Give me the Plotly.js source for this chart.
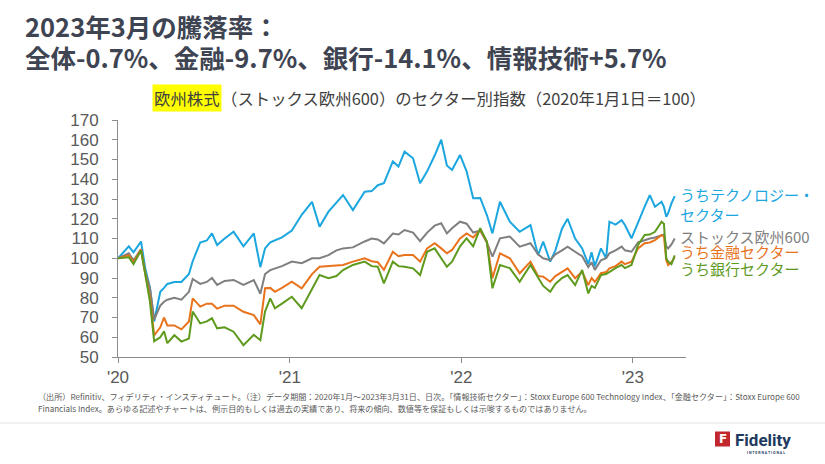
<!DOCTYPE html>
<html>
<head>
<meta charset="utf-8">
<script src="https://cdn.plot.ly/plotly-3.0.1.min.js"></script>
<style>html,body{margin:0;padding:0;background:#fff;}#chart{width:825px;height:464px;}</style>
</head>
<body>
<div id="chart"></div>
<script>
// ---- data ----
const dates = [
 '2020-01-01','2020-01-24','2020-02-03','2020-02-19','2020-02-28','2020-03-09','2020-03-18','2020-03-31',
 '2020-04-08','2020-04-15','2020-04-30','2020-05-15','2020-05-31','2020-06-08','2020-06-24','2020-07-08',
 '2020-07-19','2020-07-30','2020-08-15','2020-09-03','2020-09-24','2020-10-16','2020-10-30','2020-11-09',
 '2020-11-20','2020-11-30','2020-12-15','2021-01-05','2021-01-26','2021-02-17','2021-03-05','2021-03-24',
 '2021-04-10','2021-04-24','2021-05-15','2021-06-09','2021-06-24','2021-07-07','2021-07-20','2021-08-08',
 '2021-08-20','2021-09-02','2021-09-20','2021-10-05','2021-10-20','2021-11-05','2021-11-19','2021-12-01',
 '2021-12-12','2021-12-29','2022-01-12','2022-01-26','2022-02-10','2022-02-24','2022-03-08','2022-03-24',
 '2022-04-14','2022-05-05','2022-05-28','2022-06-13','2022-06-24','2022-07-09','2022-07-20','2022-08-03',
 '2022-08-15','2022-08-31','2022-09-15','2022-09-28','2022-10-05','2022-10-12','2022-10-25','2022-11-05',
 '2022-11-12','2022-11-25','2022-12-08','2022-12-15','2022-12-29','2023-01-12','2023-01-26','2023-02-06',
 '2023-02-17','2023-03-03','2023-03-08','2023-03-13','2023-03-17','2023-03-24','2023-03-31'
];
const tech = [
 100,106,103,108.5,95,85,68,83, 85,87,88,88,92,98.5,108,109,
 112.6,106.7,110,113.4,106,112.6,95.5,105, 108,109,110.6,114,122,128.6,116,123.6,
 128,132,124.4,133.7,134,137,138,149, 146.4,154,150.6,138,144,152,160,147,
 144.7,152.3,144,130.4,130.5,122,112.6,128.6, 118.5,113.4,116.8,101.6,108.4,98.3,104,115,
 120,110,105,97,103,96,105,100, 118.5,117,119.3,116.8,110.1,118.5,126.1,132,
 126.1,128.6,126,121,122.8,127.8,131.5
];
const stoxx600 = [
 100,102.5,99,104.5,93,85,69,76, 78,79,80,79,83,89.5,87,88,
 90,86.5,88.5,89,86.5,89,82,92, 94,94.7,96,98.3,97.5,100,100,101.6,
 104,105,105.5,108.5,110,109.5,107.5,112.5, 112,114.3,113,108.7,113,116.5,117.7,112.6,
 115.2,118.5,117.5,113,114,108,100.8,110.1, 111,105.9,107.6,102,100,99,102,104,
 105.9,103.3,101,95.5,98,94.1,99,100, 102.5,104,105.9,104,103.3,108,109.2,110,
 110.5,111.8,112,106,105,107,110
];
const financials = [
 100,101.5,98,104.5,92,80,61,65, 70,66,66,64,68,79.7,75.5,77,
 77,74.5,76,76,72.9,71.2,66.5,84.8, 85,83,85,88.1,84.8,92,95.7,96,
 96.5,96.6,98.3,100,98.5,98,94.1,103.3, 101,101.6,101.6,98.3,105,107.6,105,102.5,
 104.2,110,112.6,110.5,114.3,108.4,89.9,102.5, 100,92.4,98.3,91,90.7,88.1,91,93,
 94.9,89.9,93.2,86.4,90,88,92.4,93, 94.9,96,98.3,97,98.3,105,107.6,108,
 109.2,111.8,111,99,96.6,98,100.5
];
const banks = [
 100,100.5,97,104,92,78,58,60, 63,57,61,57.8,59.4,73,67,68,
 69.6,64.5,65,62.8,56,61.2,58.5,73, 79.7,74.7,77,80.5,74.7,84.8,91.5,89.9,
 91,94,96.6,98.3,96,95.7,87.3,98.3, 96,95.7,94.9,91.5,103.3,105,100,95.7,
 98.3,106,110.1,106,115.2,108.4,84.8,96.6, 95,88.1,96.6,90.7,86,83,87,90,
 91.5,86.4,94.1,82.2,86,85,91.5,92, 93.2,95,96.6,95,96.6,106.7,111.8,112,
 113.4,118.5,117.5,100,98.3,97,101.5
];
const seriesNames = ['うちテクノロジー・<br>セクター','ストックス欧州600','うち金融セクター','うち銀行セクター'];
const seriesColors = ['#1BA6DF','#7F7F7F','#E8731C','#5E9A1E'];
const xTickVals = ['2020-01-01','2021-01-01','2022-01-01','2023-01-01'];
const xTickText = ["'20","'21","'22","'23"];
const titleLines = ['2023年3月の騰落率：','全体-0.7%、金融-9.7%、銀行-14.1%、情報技術+5.7%'];

// ---- layout helpers (pixel -> paper) ----
const W = 825, H = 464, L = 118, R = 686, T = 120, B = 357;
const px = x => (x - L) / (R - L);
const py = y => (B - y) / (B - T);

const allSeries = [tech, stoxx600, financials, banks];
const traces = allSeries.map((v, i) => ({
  x: dates, y: v, type: 'scatter', mode: 'lines',
  line: {color: seriesColors[i], width: 2}, hoverinfo: 'skip', showlegend: false
}));

const jp = '"Noto Sans CJK JP", "Noto Sans", sans-serif';
const ann = [];
// title lines
[26, 57].forEach((yy, i) => {
  ann.push({xref:'paper', yref:'paper', x: px(23), y: py(yy), xanchor:'left', yanchor:'middle',
    text: '<b>' + titleLines[i] + '</b>', showarrow:false,
    font:{family: jp, size: 25.5, color:'#3E4452'}});
});
// series labels at right
const labelY = [204, 236, 251.5, 268.5];
allSeries.forEach((v, i) => {
  ann.push({xref:'paper', yref:'paper', x: px(678), y: py(labelY[i]), xanchor:'left', yanchor:'middle',
    text: seriesNames[i], showarrow:false, align:'left',
    font:{family: jp, size: 15, color: seriesColors[i]}});
});
// subtitle
ann.push({xref:'paper', yref:'paper', x: px(152), y: py(98), xanchor:'left', yanchor:'middle',
  text:'欧州株式', showarrow:false, bgcolor:'#FFFF00', borderpad:1,
  font:{family: jp, size: 16.4, color:'#3F3F3F'}});
ann.push({xref:'paper', yref:'paper', x: px(219), y: py(98), xanchor:'left', yanchor:'middle',
  text:'（ストックス欧州600）のセクター別指数（2020年1月1日＝100）', showarrow:false,
  font:{family: jp, size: 16.4, color:'#3F3F3F'}});
// footnotes
ann.push({xref:'paper', yref:'paper', x: px(36), y: py(396), xanchor:'left', yanchor:'middle', showarrow:false,
  text:'（出所）Refinitiv、フィデリティ・インスティテュート。（注）データ期間：2020年1月～2023年3月31日、日次。「情報技術セクター」：Stoxx Europe 600 Technology Index、「金融セクター」：Stoxx Europe 600',
  font:{family: jp, size: 8.1, color:'#595959'}});
ann.push({xref:'paper', yref:'paper', x: px(36), y: py(408), xanchor:'left', yanchor:'middle', showarrow:false,
  text:'Financials Index。あらゆる記述やチャートは、例示目的もしくは過去の実績であり、将来の傾向、数値等を保証もしくは示唆するものではありません。',
  font:{family: jp, size: 8.1, color:'#595959'}});
// logo texts
ann.push({xref:'paper', yref:'paper', x: px(722.5), y: py(439), xanchor:'center', yanchor:'middle', showarrow:false,
  text:'<b>F</b>', font:{family:'"DejaVu Sans", sans-serif', size: 12, color:'#FFFFFF'}});
ann.push({xref:'paper', yref:'paper', x: px(733), y: py(440), xanchor:'left', yanchor:'middle', showarrow:false,
  text:'<b>Fidelity</b>', font:{family:'Roboto, sans-serif', size: 17, color:'#1E3A5F'}});
ann.push({xref:'paper', yref:'paper', x: px(766), y: py(453), xanchor:'center', yanchor:'middle', showarrow:false,
  text:'<b>I N T E R N A T I O N A L</b>', font:{family:'Roboto, sans-serif', size: 3.6, color:'#1E3A5F'}});

const shapes = [
  {type:'line', xref:'paper', yref:'paper', x0: px(0), x1: px(825), y0: py(423), y1: py(423),
   line:{color:'#E3E3E3', width:1}},
  {type:'rect', xref:'paper', yref:'paper', x0: px(715), x1: px(730), y0: py(431.5), y1: py(446.5),
   fillcolor:'#C1272D', line:{width:0}}
];

const axisFont = {family:'"Liberation Sans", Arial, sans-serif', size: 17, color:'#595959'};
const layout = {
  width: W, height: H,
  margin: {l: L, r: W - R, t: T, b: H - B, pad: 0},
  paper_bgcolor: '#FFFFFF', plot_bgcolor: '#FFFFFF',
  xaxis: {type:'date', range:['2020-01-01','2023-04-24'], tickvals: xTickVals, ticktext: xTickText,
    ticks:'outside', ticklen:5, tickcolor:'#8C8C8C', showline:true, linecolor:'#8C8C8C', linewidth:1,
    showgrid:false, zeroline:false, tickfont: axisFont, fixedrange:true},
  yaxis: {range:[50,170], dtick:10, tick0:50, ticks:'outside', ticklen:5, tickcolor:'#8C8C8C',
    showline:true, linecolor:'#8C8C8C', linewidth:1, showgrid:false, zeroline:false,
    tickfont: axisFont, ticklabelstandoff: 10, fixedrange:true},
  annotations: ann, shapes: shapes, showlegend:false
};
Plotly.newPlot('chart', traces, layout, {staticPlot:true, displayModeBar:false});
</script>
</body>
</html>
